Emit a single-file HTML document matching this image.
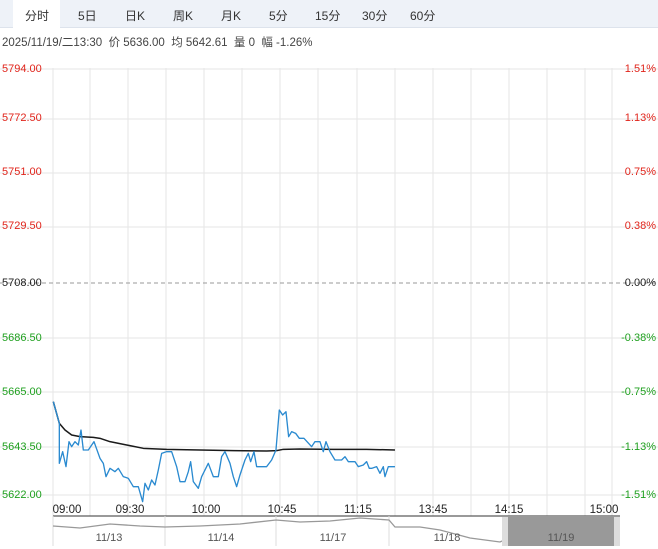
<!DOCTYPE html><html><head><meta charset="utf-8"><style>
body{margin:0;width:658px;height:549px;background:#fff;font-family:"Liberation Sans","Noto Sans CJK SC",sans-serif;overflow:hidden;position:relative}
.tabs{position:absolute;left:0;top:0;width:658px;height:27px;background:#eef2f8;border-bottom:1px solid #dde3ec}
.tab{position:absolute;top:7px;font-size:12px;color:#333}
.act{position:absolute;left:13px;top:0;width:47px;height:28px;background:#fff}
.info{position:absolute;left:2px;top:34px;font-size:11.5px;color:#444;white-space:nowrap}
.l{position:absolute;font-size:11px;left:2px}
.r{position:absolute;font-size:11px;right:2px}
</style></head><body>
<div class="tabs"><div class="act"></div>
<span class="tab" style="left:25px">分时</span><span class="tab" style="left:78px">5日</span><span class="tab" style="left:125px">日K</span><span class="tab" style="left:173px">周K</span><span class="tab" style="left:221px">月K</span><span class="tab" style="left:269px">5分</span><span class="tab" style="left:315px">15分</span><span class="tab" style="left:362px">30分</span><span class="tab" style="left:410px">60分</span></div>
<div class="info">2025/11/19/二13:30 &nbsp;价 5636.00 &nbsp;均 5642.61 &nbsp;量 0 &nbsp;幅 -1.26%</div>
<svg width="658" height="549" style="position:absolute;left:0;top:0">
<g stroke="#e6e6e6" stroke-width="1">
<line x1="53" y1="68" x2="53" y2="516"/><line x1="90" y1="68" x2="90" y2="516"/><line x1="128" y1="68" x2="128" y2="516"/><line x1="166" y1="68" x2="166" y2="516"/><line x1="204" y1="68" x2="204" y2="516"/><line x1="242" y1="68" x2="242" y2="516"/><line x1="280" y1="68" x2="280" y2="516"/><line x1="318" y1="68" x2="318" y2="516"/><line x1="357" y1="68" x2="357" y2="516"/><line x1="395" y1="68" x2="395" y2="516"/><line x1="433" y1="68" x2="433" y2="516"/><line x1="471" y1="68" x2="471" y2="516"/><line x1="509" y1="68" x2="509" y2="516"/><line x1="547" y1="68" x2="547" y2="516"/><line x1="585" y1="68" x2="585" y2="516"/><line x1="612" y1="68" x2="612" y2="516"/>
<line x1="0" y1="69" x2="658" y2="69"/><line x1="0" y1="119" x2="658" y2="119"/><line x1="0" y1="173" x2="658" y2="173"/><line x1="0" y1="227" x2="658" y2="227"/><line x1="0" y1="338" x2="658" y2="338"/><line x1="0" y1="392" x2="658" y2="392"/><line x1="0" y1="447" x2="658" y2="447"/><line x1="0" y1="495" x2="658" y2="495"/>
</g>
<line x1="0" y1="283" x2="658" y2="283" stroke="#999" stroke-dasharray="4,3"/>
<g transform="translate(0,380) scale(0.3333)" fill="none" stroke-linejoin="round">
<polyline stroke="#1a1a1a" stroke-width="4.5" points="160,65 178,130 195,150 215,165 240,170 280,172 300,175 330,185 380,195 430,205 500,208 600,210 700,212 800,213 830,212 850,208 900,207 1000,208 1100,208 1185,210"/>
<polyline stroke="#2a8ad0" stroke-width="4" points="160,65 178,130 178,250 188,215 198,260 207,185 215,200 225,185 235,195 243,150 250,210 265,210 282,185 300,235 310,250 318,290 330,265 345,275 355,265 370,290 385,295 400,320 415,320 428,365 435,310 445,330 455,300 465,315 475,270 485,220 500,215 515,215 530,260 540,305 555,305 565,275 572,245 580,305 595,325 605,290 625,250 640,290 655,290 665,230 675,215 690,250 700,290 710,320 720,285 735,240 745,220 752,245 762,215 770,260 800,260 815,240 828,210 838,90 848,105 858,95 866,170 875,155 887,160 898,175 912,175 935,200 945,185 960,185 970,215 978,185 990,215 1005,240 1025,240 1035,230 1045,245 1065,245 1075,260 1090,255 1100,245 1108,265 1115,265 1130,260 1140,280 1150,260 1155,290 1165,260 1185,260"/>
</g>
<line x1="53" y1="516" x2="620" y2="516" stroke="#333"/>
<g stroke="#ddd"><line x1="53" y1="516" x2="53" y2="546"/><line x1="165" y1="516" x2="165" y2="546"/><line x1="276" y1="516" x2="276" y2="546"/><line x1="389" y1="516" x2="389" y2="546"/></g>
<polyline fill="none" stroke="#999" stroke-width="1.3" points="53,526 80,528 110,524 140,526 165,527 200,526 240,524 276,520 300,522 330,521 360,518 389,520 395,527 420,527 440,530 470,538 500,542 502,541"/>
<rect x="502" y="517" width="118" height="29" fill="#999"/>
<rect x="502" y="517" width="6" height="29" fill="#ddd"/><rect x="614" y="517" width="6" height="29" fill="#ddd"/>
<g font-size="11" fill="#555" font-family="Liberation Sans,sans-serif" text-anchor="middle"><text x="109" y="541">11/13</text><text x="221" y="541">11/14</text><text x="333" y="541">11/17</text><text x="447" y="541">11/18</text><text x="561" y="541">11/19</text></g>
<g font-size="11.5" fill="#222" font-family="Liberation Sans,sans-serif" text-anchor="middle"><text x="67" y="513">09:00</text><text x="130" y="513">09:30</text><text x="206" y="513">10:00</text><text x="282" y="513">10:45</text><text x="358" y="513">11:15</text><text x="433" y="513">13:45</text><text x="509" y="513">14:15</text><text x="604" y="513">15:00</text></g>
</svg>
<div class="l" style="top:63px;color:#e0241b">5794.00</div><div class="l" style="top:112px;color:#e0241b">5772.50</div><div class="l" style="top:166px;color:#e0241b">5751.00</div><div class="l" style="top:220px;color:#e0241b">5729.50</div><div class="l" style="top:277px;color:#222">5708.00</div><div class="l" style="top:332px;color:#1fa01f">5686.50</div><div class="l" style="top:386px;color:#1fa01f">5665.00</div><div class="l" style="top:441px;color:#1fa01f">5643.50</div><div class="l" style="top:489px;color:#1fa01f">5622.00</div>
<div class="r" style="top:63px;color:#e0241b">1.51%</div><div class="r" style="top:112px;color:#e0241b">1.13%</div><div class="r" style="top:166px;color:#e0241b">0.75%</div><div class="r" style="top:220px;color:#e0241b">0.38%</div><div class="r" style="top:277px;color:#222">0.00%</div><div class="r" style="top:332px;color:#1fa01f">-0.38%</div><div class="r" style="top:386px;color:#1fa01f">-0.75%</div><div class="r" style="top:441px;color:#1fa01f">-1.13%</div><div class="r" style="top:489px;color:#1fa01f">-1.51%</div>
</body></html>
